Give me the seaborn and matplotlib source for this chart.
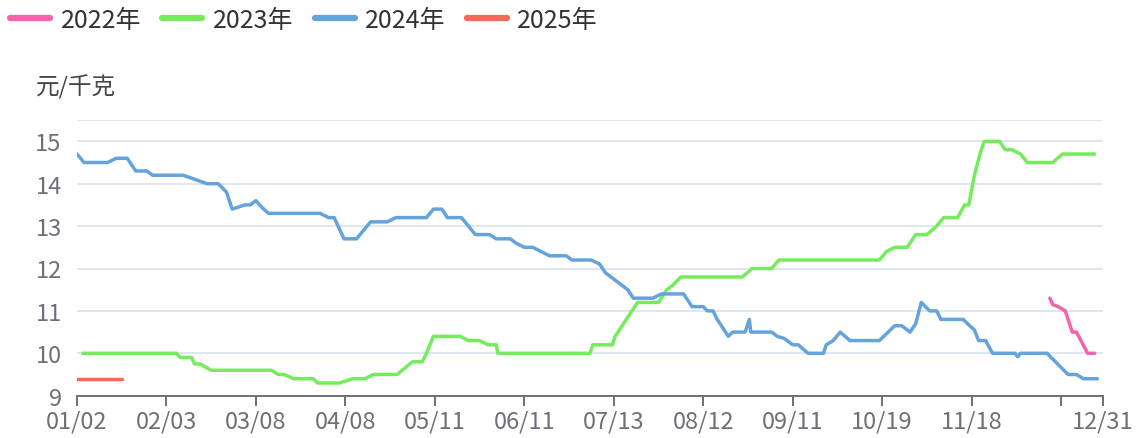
import matplotlib
matplotlib.use("Agg")
import matplotlib.pyplot as plt
from matplotlib.lines import Line2D
import seaborn as sns
import pandas as pd

# -----------------------------------------------------
# DATA (x = category index along the year, y = 元/千克)
# -----------------------------------------------------
x_2022 = [348, 349, 351, 353.5, 356, 357.5, 361.5, 364]
y_2022 = [11.3, 11.15, 11.1, 11.0, 10.5, 10.5, 10.0, 10.0]

x_2023 = [2, 35.5, 37, 41, 42, 44, 48, 69.5, 72, 74,
          77.5, 84.5, 86, 94, 98.5, 103, 106, 114.5, 120, 123.5,
          125, 127.5, 137, 140, 144, 147, 150, 150.5, 183.5, 184.5,
          191.5, 192.5, 200.5, 208, 211, 213, 216, 238, 241.5, 248.5,
          251, 287, 289.5, 292.5, 297, 300, 304, 307.5, 310, 315,
          317.5, 319, 321, 323, 324.5, 330, 332, 334.5, 337.5, 340,
          349, 352.5, 364]
y_2023 = [10.0, 10.0, 9.9, 9.9, 9.75, 9.75, 9.6, 9.6, 9.5, 9.5,
          9.4, 9.4, 9.3, 9.3, 9.4, 9.4, 9.5, 9.5, 9.8, 9.8,
          10.0, 10.4, 10.4, 10.3, 10.3, 10.2, 10.2, 10.0, 10.0, 10.2,
          10.2, 10.4, 11.2, 11.2, 11.5, 11.6, 11.8, 11.8, 12.0, 12.0,
          12.2, 12.2, 12.4, 12.5, 12.5, 12.8, 12.8, 13.0, 13.2, 13.2,
          13.5, 13.5, 14.2, 14.7, 15.0, 15.0, 14.8, 14.8, 14.7, 14.5,
          14.5, 14.7, 14.7]

x_2024 = [0, 2.5, 11, 14, 18, 21, 25, 27, 38, 46.5,
          50.5, 53.5, 55.5, 60, 62, 64, 66, 68.5, 87, 90,
          92, 95.5, 100, 105, 111, 114, 125, 127.5, 130.5, 132.5,
          137.5, 142.5, 147.5, 150, 155, 157, 160, 163, 166, 169,
          175, 177, 184, 187, 189, 192, 197, 199, 206, 209,
          217, 220, 224, 225.5, 227.5, 229, 231, 233, 234.5, 239,
          240.5, 241, 248.5, 250.5, 253, 256, 258, 261.5, 267, 268,
          270.5, 273, 276.5, 287, 292.5, 295, 298, 300, 302, 305,
          307.5, 309, 317, 318.5, 321, 322.5, 325, 327.5, 335.5, 336.5,
          337.5, 347, 350, 353, 354.5, 357.5, 360, 365]
y_2024 = [14.7, 14.5, 14.5, 14.6, 14.6, 14.3, 14.3, 14.2, 14.2, 14.0,
          14.0, 13.8, 13.4, 13.5, 13.5, 13.6, 13.45, 13.3, 13.3, 13.2,
          13.2, 12.7, 12.7, 13.1, 13.1, 13.2, 13.2, 13.4, 13.4, 13.2,
          13.2, 12.8, 12.8, 12.7, 12.7, 12.6, 12.5, 12.5, 12.4, 12.3,
          12.3, 12.2, 12.2, 12.1, 11.9, 11.75, 11.5, 11.3, 11.3, 11.4,
          11.4, 11.1, 11.1, 11.0, 11.0, 10.8, 10.6, 10.4, 10.5, 10.5,
          10.8, 10.5, 10.5, 10.4, 10.35, 10.2, 10.2, 10.0, 10.0, 10.2,
          10.3, 10.5, 10.3, 10.3, 10.65, 10.65, 10.5, 10.7, 11.2, 11.0,
          11.0, 10.8, 10.8, 10.7, 10.55, 10.3, 10.3, 10.0, 10.0, 9.92,
          10.0, 10.0, 9.8, 9.6, 9.5, 9.5, 9.4, 9.4]

x_2025 = [0, 16]
y_2025 = [9.4, 9.4]

years = ["2022年", "2023年", "2024年", "2025年"]
colors = ["#F763AA", "#75EC5C", "#65A3DC", "#F26A58"]

tick_pos = [0, 32, 64, 96, 128, 160, 192, 224, 256, 288, 320, 352, 367]
tick_labels = ["01/02", "02/03", "03/08", "04/08", "05/11", "06/11", "07/13",
               "08/12", "09/11", "10/19", "11/18", "", "12/31"]

# -----------------------------------------------------
# LONG TABLE
# -----------------------------------------------------
frames = []
for name, xs, ys in zip(years, [x_2022, x_2023, x_2024, x_2025],
                        [y_2022, y_2023, y_2024, y_2025]):
    frames.append(pd.DataFrame({"x": xs, "price": ys, "year": name}))
df = pd.concat(frames, ignore_index=True)

# -----------------------------------------------------
# PLOT
# -----------------------------------------------------
sns.set_theme(style="white")
plt.rcParams["font.family"] = ["Noto Sans CJK SC", "DejaVu Sans"]

FS = 17
axis_grey = "#6E7079"

fig = plt.figure(figsize=(11.37, 4.39), dpi=100)
W, H = 1137, 439
ax = fig.add_axes([77 / W, 1 - 396.7 / H, 1026 / W, 275.6 / H])

sns.lineplot(
    data=df, x="x", y="price", hue="year",
    hue_order=years, palette=dict(zip(years, colors)),
    estimator=None, sort=False, units="year",
    linewidth=2.5, legend=False, ax=ax,
    solid_joinstyle="round", solid_capstyle="round",
)

ax.set_xlim(0, 367)
ax.set_ylim(9, 15.5)

ax.set_xticks(tick_pos)
ax.set_xticklabels(tick_labels)
ax.set_yticks([9, 10, 11, 12, 13, 14, 15, 15.5])
ax.set_yticklabels(["9", "10", "11", "12", "13", "14", "15", ""])

ax.grid(axis="y", color="#E0E6F1", linewidth=1.4)
ax.grid(axis="x", visible=False)
ax.set_axisbelow(True)

for side in ["top", "right", "left"]:
    ax.spines[side].set_visible(False)
ax.spines["bottom"].set_color(axis_grey)
ax.spines["bottom"].set_linewidth(1.4)

ax.tick_params(axis="x", bottom=True, length=7, width=1.4, color=axis_grey,
               labelsize=FS, labelcolor=axis_grey, pad=3)
ax.tick_params(axis="y", left=False, length=0, labelsize=FS,
               labelcolor=axis_grey, pad=11)
ax.set_xlabel("")
ax.set_ylabel("")

fig.text(36 / W, 1 - 87 / H, "元/千克", fontsize=FS, color="#464646",
         ha="left", va="center")

handles = [Line2D([0], [0], color=c, lw=4.5) for c in colors]
fig.legend(handles, years, loc="center left",
           bbox_to_anchor=(0 / W, 1 - 21 / H), ncol=4, frameon=False,
           fontsize=18, handlelength=1.6, handletextpad=0.42,
           columnspacing=0.85, labelcolor="#333333", borderaxespad=0)

plt.savefig("out.png", dpi=100)
